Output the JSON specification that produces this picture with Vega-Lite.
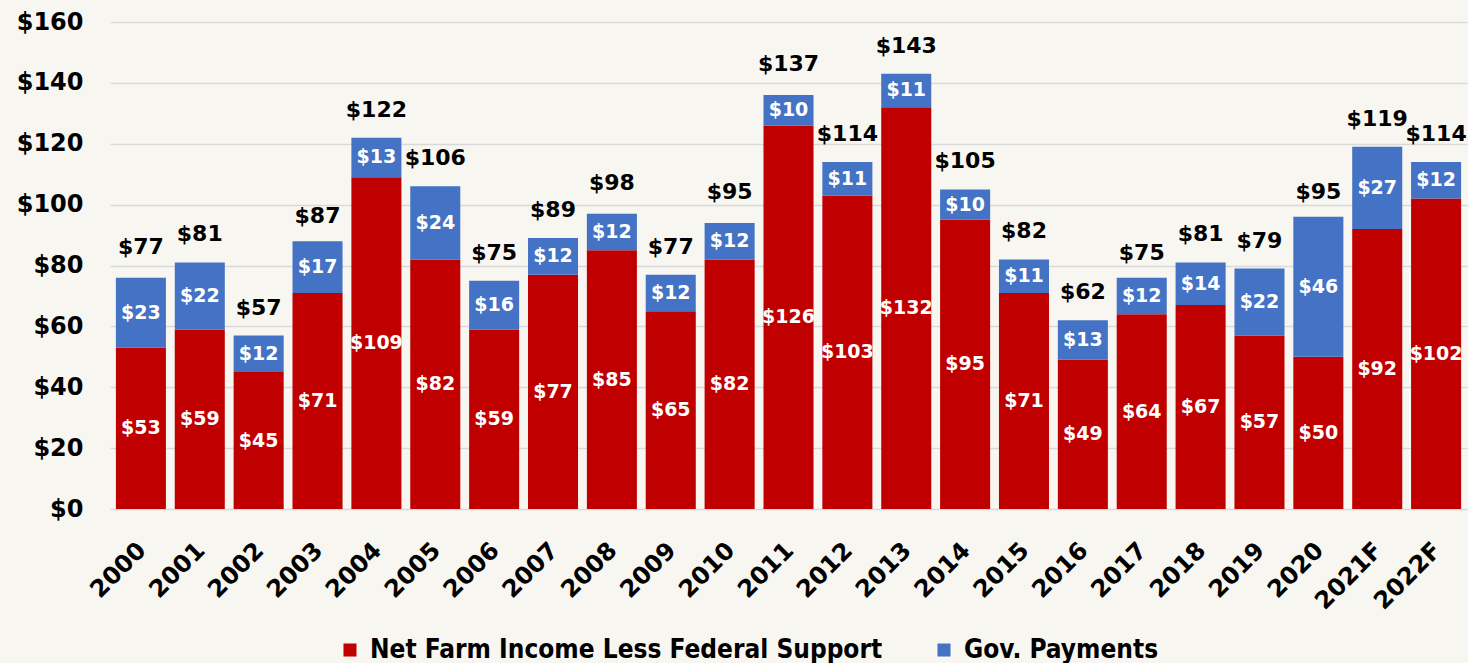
{
  "$schema": "https://vega.github.io/schema/vega-lite/v6.json",
  "width": 1357,
  "height": 487,
  "autosize": {"type": "none"},
  "padding": {"left": 110, "top": 22, "right": 1, "bottom": 154},
  "background": "#f8f6f1",
  "config": {"view": {"stroke": null}, "font": "DejaVu Sans"},
  "datasets": {
    "segments": [
      {"year": "2000", "series": "Net Farm Income Less Federal Support", "value": 53},
      {"year": "2000", "series": "Gov. Payments", "value": 23},
      {"year": "2001", "series": "Net Farm Income Less Federal Support", "value": 59},
      {"year": "2001", "series": "Gov. Payments", "value": 22},
      {"year": "2002", "series": "Net Farm Income Less Federal Support", "value": 45},
      {"year": "2002", "series": "Gov. Payments", "value": 12},
      {"year": "2003", "series": "Net Farm Income Less Federal Support", "value": 71},
      {"year": "2003", "series": "Gov. Payments", "value": 17},
      {"year": "2004", "series": "Net Farm Income Less Federal Support", "value": 109},
      {"year": "2004", "series": "Gov. Payments", "value": 13},
      {"year": "2005", "series": "Net Farm Income Less Federal Support", "value": 82},
      {"year": "2005", "series": "Gov. Payments", "value": 24},
      {"year": "2006", "series": "Net Farm Income Less Federal Support", "value": 59},
      {"year": "2006", "series": "Gov. Payments", "value": 16},
      {"year": "2007", "series": "Net Farm Income Less Federal Support", "value": 77},
      {"year": "2007", "series": "Gov. Payments", "value": 12},
      {"year": "2008", "series": "Net Farm Income Less Federal Support", "value": 85},
      {"year": "2008", "series": "Gov. Payments", "value": 12},
      {"year": "2009", "series": "Net Farm Income Less Federal Support", "value": 65},
      {"year": "2009", "series": "Gov. Payments", "value": 12},
      {"year": "2010", "series": "Net Farm Income Less Federal Support", "value": 82},
      {"year": "2010", "series": "Gov. Payments", "value": 12},
      {"year": "2011", "series": "Net Farm Income Less Federal Support", "value": 126},
      {"year": "2011", "series": "Gov. Payments", "value": 10},
      {"year": "2012", "series": "Net Farm Income Less Federal Support", "value": 103},
      {"year": "2012", "series": "Gov. Payments", "value": 11},
      {"year": "2013", "series": "Net Farm Income Less Federal Support", "value": 132},
      {"year": "2013", "series": "Gov. Payments", "value": 11},
      {"year": "2014", "series": "Net Farm Income Less Federal Support", "value": 95},
      {"year": "2014", "series": "Gov. Payments", "value": 10},
      {"year": "2015", "series": "Net Farm Income Less Federal Support", "value": 71},
      {"year": "2015", "series": "Gov. Payments", "value": 11},
      {"year": "2016", "series": "Net Farm Income Less Federal Support", "value": 49},
      {"year": "2016", "series": "Gov. Payments", "value": 13},
      {"year": "2017", "series": "Net Farm Income Less Federal Support", "value": 64},
      {"year": "2017", "series": "Gov. Payments", "value": 12},
      {"year": "2018", "series": "Net Farm Income Less Federal Support", "value": 67},
      {"year": "2018", "series": "Gov. Payments", "value": 14},
      {"year": "2019", "series": "Net Farm Income Less Federal Support", "value": 57},
      {"year": "2019", "series": "Gov. Payments", "value": 22},
      {"year": "2020", "series": "Net Farm Income Less Federal Support", "value": 50},
      {"year": "2020", "series": "Gov. Payments", "value": 46},
      {"year": "2021F", "series": "Net Farm Income Less Federal Support", "value": 92},
      {"year": "2021F", "series": "Gov. Payments", "value": 27},
      {"year": "2022F", "series": "Net Farm Income Less Federal Support", "value": 102},
      {"year": "2022F", "series": "Gov. Payments", "value": 12}
    ],
    "totals": [
      {"year": "2000", "total": 77},
      {"year": "2001", "total": 81},
      {"year": "2002", "total": 57},
      {"year": "2003", "total": 87},
      {"year": "2004", "total": 122},
      {"year": "2005", "total": 106},
      {"year": "2006", "total": 75},
      {"year": "2007", "total": 89},
      {"year": "2008", "total": 98},
      {"year": "2009", "total": 77},
      {"year": "2010", "total": 95},
      {"year": "2011", "total": 137},
      {"year": "2012", "total": 114},
      {"year": "2013", "total": 143},
      {"year": "2014", "total": 105},
      {"year": "2015", "total": 82},
      {"year": "2016", "total": 62},
      {"year": "2017", "total": 75},
      {"year": "2018", "total": 81},
      {"year": "2019", "total": 79},
      {"year": "2020", "total": 95},
      {"year": "2021F", "total": 119},
      {"year": "2022F", "total": 114}
    ]
  },
  "encoding": {
    "x": {
      "field": "year",
      "type": "ordinal",
      "sort": "ascending",
      "scale": {"paddingInner": 0.15, "paddingOuter": 0.1},
      "axis": {
        "title": null,
        "labelAngle": -45,
        "labelFont": "DejaVu Sans",
        "labelFontSize": 24,
        "labelFontWeight": "bold",
        "labelColor": "#000000",
        "labelPadding": 29,
        "labelOffset": -7,
        "domain": false,
        "ticks": false
      }
    }
  },
  "layer": [
    {
      "data": {"name": "segments"},
      "transform": [
        {"stack": "value", "groupby": ["year"], "sort": [{"field": "series", "order": "descending"}], "as": ["v0", "v1"]},
        {"calculate": "(datum.v0 + datum.v1) / 2", "as": "mid"}
      ],
      "layer": [
        {
          "mark": {"type": "bar"},
          "encoding": {
            "y": {
              "field": "v0",
              "type": "quantitative",
              "scale": {"domain": [0, 160]},
              "axis": {
                "title": null,
                "values": [0, 20, 40, 60, 80, 100, 120, 140, 160],
                "format": "$.0f",
                "labelFont": "DejaVu Sans",
                "labelFontSize": 24,
                "labelFontWeight": "bold",
                "labelColor": "#000000",
                "labelPadding": 27,
                "domain": false,
                "ticks": false,
                "gridColor": "#d9d9d9",
                "gridWidth": 1.5
              }
            },
            "y2": {"field": "v1"},
            "color": {
              "field": "series",
              "type": "nominal",
              "scale": {
                "domain": ["Net Farm Income Less Federal Support", "Gov. Payments"],
                "range": ["#C00000", "#4472C4"]
              },
              "legend": {
                "title": null,
                "orient": "none",
                "legendX": 227,
                "legendY": 615,
                "padding": 0,
                "direction": "horizontal",
                "symbolType": "square",
                "symbolSize": 170,
                "symbolStrokeWidth": 0,
                "labelFont": "DejaVu Sans Condensed, Roboto, sans-serif",
                "labelFontSize": 26,
                "labelFontWeight": "bold",
                "labelColor": "#000000",
                "labelLimit": 0,
                "columnPadding": 48,
                "labelOffset": 7
              }
            }
          }
        },
        {
          "mark": {"type": "text", "color": "#ffffff", "fontSize": 19, "fontWeight": "bold", "baseline": "middle", "font": "DejaVu Sans"},
          "encoding": {
            "y": {"field": "mid", "type": "quantitative"},
            "text": {"field": "value", "type": "quantitative", "format": "$.0f"}
          }
        }
      ]
    },
    {
      "data": {"name": "totals"},
      "mark": {"type": "text", "color": "#000000", "fontSize": 22, "fontWeight": "bold", "baseline": "middle", "dy": -28, "font": "DejaVu Sans"},
      "encoding": {
        "y": {"field": "total", "type": "quantitative"},
        "text": {"field": "total", "type": "quantitative", "format": "$.0f"}
      }
    }
  ]
}
